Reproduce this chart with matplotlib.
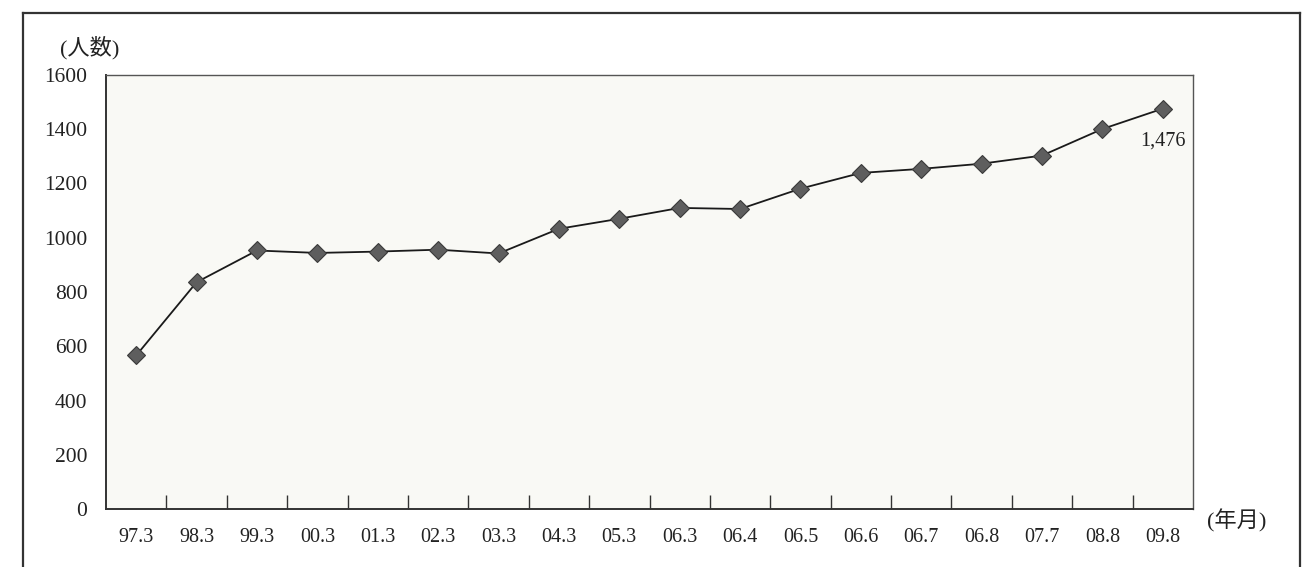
import matplotlib
matplotlib.use("Agg")
import matplotlib.pyplot as plt
from matplotlib.lines import Line2D
from matplotlib.ticker import FixedLocator

plt.rcParams['font.family'] = ['Liberation Serif', 'Noto Sans CJK JP']

# Survey dates (year.month) and head counts
periods = ["97.3", "98.3", "99.3", "00.3", "01.3", "02.3", "03.3", "04.3", "05.3",
           "06.3", "06.4", "06.5", "06.6", "06.7", "06.8", "07.7", "08.8", "09.8"]
members = [566, 836, 953, 944, 949, 956, 942, 1033, 1070,
           1110, 1106, 1181, 1239, 1254, 1273, 1303, 1401, 1476]
y_ticks = [0, 200, 400, 600, 800, 1000, 1200, 1400, 1600]

fig = plt.figure(figsize=(13.1, 5.67), dpi=100)
fig.patch.set_facecolor("white")

# Outer frame (open at the bottom)
W, H = 1310, 567
def fx(px): return px / W
def fy(py): return 1 - py / H
frame_kw = dict(color="#333333", linewidth=1.6, transform=fig.transFigure)
fig.add_artist(Line2D([fx(23), fx(23)], [fy(13), 0], **frame_kw))
fig.add_artist(Line2D([fx(23), fx(1300)], [fy(13), fy(13)], **frame_kw))
fig.add_artist(Line2D([fx(1300), fx(1300)], [fy(13), 0], **frame_kw))

ax = fig.add_axes([fx(106), fy(509), fx(1193) - fx(106), fy(75) - fy(509)])
ax.set_facecolor("#f9f9f5")

x = list(range(len(periods)))
ax.plot(x, members, color="#1a1a1a", linewidth=1.3, zorder=3)
ax.plot(x, members, linestyle="none", marker="D", markersize=9,
        markerfacecolor="#5e5e5e", markeredgecolor="#3a3a3a", markeredgewidth=0.8,
        zorder=4)

ax.set_xlim(-0.5, len(periods) - 0.5)
ax.set_ylim(0, 1600)

ax.set_xticks(x)
ax.set_xticklabels(periods, fontsize=14.5)
ax.xaxis.set_minor_locator(FixedLocator([i + 0.5 for i in range(len(periods) - 1)]))
ax.tick_params(axis="x", which="major", length=0, pad=13.5, colors="#222222")
ax.tick_params(axis="x", which="minor", direction="in", length=10, width=1.0,
               color="#333333")

ax.set_yticks(y_ticks)
ax.set_yticklabels([str(v) for v in y_ticks], fontsize=15.5)
ax.tick_params(axis="y", length=0, pad=13.5, colors="#222222")

for side in ["left", "bottom"]:
    ax.spines[side].set_color("#333333")
    ax.spines[side].set_linewidth(1.4)
for side in ["top", "right"]:
    ax.spines[side].set_color("#555555")
    ax.spines[side].set_linewidth(1.0)

# Value label on the latest point
ax.annotate(f"{members[-1]:,}", xy=(x[-1], members[-1]), xytext=(16.5, -23),
            textcoords="offset points", ha="right", va="center", fontsize=14.5,
            color="#222222")

fig.text(fx(60), fy(48), "(人数)", fontsize=16, ha="left", va="center", color="#222222")
fig.text(fx(1207), fy(521), "(年月)", fontsize=16, ha="left", va="center", color="#222222")

fig.savefig("out.png", dpi=100)
